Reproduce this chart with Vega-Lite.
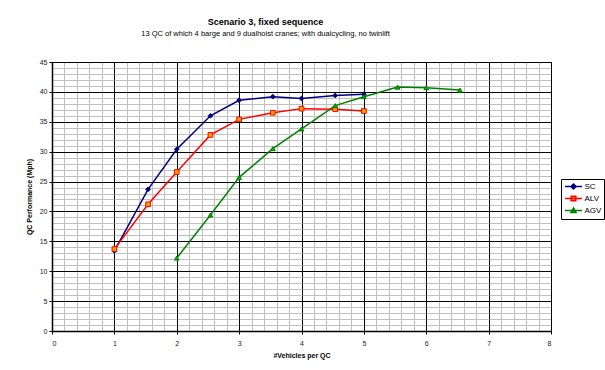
{
  "$schema": "https://vega.github.io/schema/vega-lite/v6.json",
  "width": 499,
  "height": 269,
  "autosize": "none",
  "padding": {"left": 52, "top": 62, "right": 54, "bottom": 39},
  "background": "white",
  "title": {
    "text": "Scenario 3, fixed sequence",
    "subtitle": "13 QC of which 4 barge and 9 dualhoist cranes; with dualcycling, no twinlift",
    "anchor": "middle",
    "dx": -36,
    "offset": 21,
    "font": "Liberation Sans",
    "fontSize": 9,
    "fontWeight": "bold",
    "color": "black",
    "subtitleFont": "Liberation Sans",
    "subtitleFontSize": 7.5,
    "subtitleColor": "black",
    "subtitlePadding": 3
  },
  "config": {
    "view": {"stroke": "black", "strokeWidth": 1},
    "axis": {"labelFont": "Liberation Sans", "titleFont": "Liberation Sans", "labelColor": "#222", "titleColor": "black"}
  },
  "data": {
    "values": [
      {"s": "SC", "x": 1.0, "y": 13.4},
      {"s": "SC", "x": 1.54, "y": 23.7},
      {"s": "SC", "x": 2.0, "y": 30.4},
      {"s": "SC", "x": 2.54, "y": 36.0},
      {"s": "SC", "x": 3.0, "y": 38.6},
      {"s": "SC", "x": 3.54, "y": 39.2},
      {"s": "SC", "x": 4.0, "y": 38.9},
      {"s": "SC", "x": 4.54, "y": 39.4},
      {"s": "SC", "x": 5.0, "y": 39.6},
      {"s": "ALV", "x": 1.0, "y": 13.7},
      {"s": "ALV", "x": 1.54, "y": 21.2},
      {"s": "ALV", "x": 2.0, "y": 26.6},
      {"s": "ALV", "x": 2.54, "y": 32.8},
      {"s": "ALV", "x": 3.0, "y": 35.4},
      {"s": "ALV", "x": 3.54, "y": 36.5},
      {"s": "ALV", "x": 4.0, "y": 37.2},
      {"s": "ALV", "x": 4.54, "y": 37.1},
      {"s": "ALV", "x": 5.0, "y": 36.8},
      {"s": "AGV", "x": 2.0, "y": 12.2},
      {"s": "AGV", "x": 2.54, "y": 19.4},
      {"s": "AGV", "x": 3.0, "y": 25.7},
      {"s": "AGV", "x": 3.54, "y": 30.5},
      {"s": "AGV", "x": 4.0, "y": 33.8},
      {"s": "AGV", "x": 4.54, "y": 37.7},
      {"s": "AGV", "x": 5.0, "y": 39.2},
      {"s": "AGV", "x": 5.54, "y": 40.8},
      {"s": "AGV", "x": 6.0, "y": 40.7},
      {"s": "AGV", "x": 6.54, "y": 40.3}
    ]
  },
  "layer": [
    {
      "mark": {"type": "line", "strokeWidth": 1.5},
      "encoding": {
        "x": {
          "field": "x", "type": "quantitative",
          "scale": {"domain": [0, 8], "nice": false, "zero": false},
          "axis": {
            "orient": "bottom",
            "values": [0,1,2,3,4,5,6,7,8],
            "grid": true, "gridColor": "black", "gridWidth": 1, "gridOpacity": 1,
            "domain": true, "domainColor": "black", "domainWidth": 1.5,
            "ticks": true, "tickColor": "black", "tickSize": 3,
            "labelFontSize": 7, "labelPadding": 5,
            "title": "#Vehicles per QC", "titleFontSize": 7, "titleFontWeight": "bold", "titlePadding": 5
          }
        },
        "y": {
          "field": "y", "type": "quantitative",
          "scale": {"domain": [0, 45], "nice": false},
          "axis": {
            "orient": "left",
            "values": [0,5,10,15,20,25,30,35,40,45],
            "grid": true, "gridColor": "black", "gridWidth": 1, "gridOpacity": 1,
            "domain": true, "domainColor": "black", "domainWidth": 1.5,
            "ticks": true, "tickColor": "black", "tickSize": 3,
            "labelFontSize": 7, "labelPadding": 2,
            "title": "QC Performance (Mph)", "titleFontSize": 7, "titleFontWeight": "bold", "titlePadding": 7
          }
        },
        "color": {
          "field": "s", "type": "nominal", "title": null,
          "scale": {"domain": ["SC", "ALV", "AGV"], "range": ["#000080", "#ff0000", "#008000"]},
          "legend": {
            "orient": "none",
            "legendX": 509,
            "legendY": 117,
            "padding": 2.5,
            "strokeColor": "black",
            "fillColor": "white",
            "symbolType": "M-2,0L2,0",
            "symbolSize": 72,
            "symbolStrokeWidth": 1.5,
            "symbolOffset": 5,
            "labelFont": "Liberation Sans",
            "labelFontSize": 8,
            "labelColor": "black",
            "labelOffset": 6,
            "rowPadding": 0,
            "encode": {
              "symbols": {
                "update": {
                  "shape": {"signal": "datum.value === 'SC' ? 'M-2,0L2,0M0,-0.6L0.6,0L0,0.6L-0.6,0Z' : datum.value === 'ALV' ? 'M-2,0L2,0M-0.55,-0.55L0.55,-0.55L0.55,0.55L-0.55,0.55Z' : 'M-2,0L2,0M0,-0.6L0.6,0.5L-0.6,0.5Z'"},
                  "fill": {"signal": "datum.value === 'SC' ? '#000080' : datum.value === 'ALV' ? '#ffa500' : '#00b000'"},
                  "fillOpacity": {"value": 1},
                  "strokeWidth": {"value": 1.5}
                }
              }
            }
          }
        }
      }
    },
    {
      "mark": {"type": "point", "opacity": 0},
      "encoding": {
        "x": {
          "field": "x", "type": "quantitative",
          "axis": {
            "orient": "bottom",
            "values": [0.2,0.4,0.6,0.8,1.2,1.4,1.6,1.8,2.2,2.4,2.6,2.8,3.2,3.4,3.6,3.8,4.2,4.4,4.6,4.8,5.2,5.4,5.6,5.8,6.2,6.4,6.6,6.8,7.2,7.4,7.6,7.8],
            "grid": true, "gridColor": "#c0c0c0", "gridWidth": 1, "gridOpacity": 1,
            "labels": false, "ticks": false, "domain": false, "title": null
          }
        },
        "y": {
          "field": "y", "type": "quantitative",
          "axis": {
            "orient": "left",
            "values": [1,2,3,4,6,7,8,9,11,12,13,14,16,17,18,19,21,22,23,24,26,27,28,29,31,32,33,34,36,37,38,39,41,42,43,44],
            "grid": true, "gridColor": "#c0c0c0", "gridWidth": 1, "gridOpacity": 1,
            "gridDash": [61.375, 1], "gridDashOffset": 61.875,
            "labels": false, "ticks": false, "domain": false, "title": null
          }
        }
      }
    },
    {
      "transform": [{"filter": "datum.s === 'SC'"}],
      "mark": {"type": "point", "shape": "diamond", "filled": true, "size": 22, "fill": "#000080", "stroke": "#000080", "strokeWidth": 1, "opacity": 1},
      "encoding": {
        "x": {"field": "x", "type": "quantitative", "axis": null},
        "y": {"field": "y", "type": "quantitative", "axis": null}
      }
    },
    {
      "transform": [{"filter": "datum.s === 'ALV'"}],
      "mark": {"type": "point", "shape": "square", "filled": true, "size": 22, "fill": "#ffa500", "stroke": "#ff0000", "strokeWidth": 1, "opacity": 1},
      "encoding": {
        "x": {"field": "x", "type": "quantitative", "axis": null},
        "y": {"field": "y", "type": "quantitative", "axis": null}
      }
    },
    {
      "transform": [{"filter": "datum.s === 'AGV'"}],
      "mark": {"type": "point", "shape": "triangle-up", "filled": true, "size": 22, "fill": "#00b000", "stroke": "#008000", "strokeWidth": 1, "opacity": 1},
      "encoding": {
        "x": {"field": "x", "type": "quantitative", "axis": null},
        "y": {"field": "y", "type": "quantitative", "axis": null}
      }
    }
  ],
  "resolve": {"axis": {"x": "independent", "y": "independent"}}
}
